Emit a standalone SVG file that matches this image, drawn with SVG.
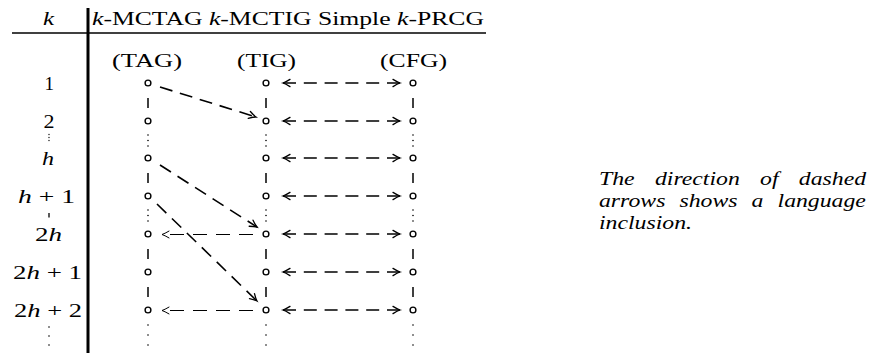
<svg xmlns="http://www.w3.org/2000/svg" width="872" height="353" viewBox="0 0 872 353">
<style>
text{font-family:"Liberation Serif","DejaVu Serif",serif;fill:#000;font-size:19px}
.i{font-style:italic}
.node{fill:#fff;stroke:#000;stroke-width:1.4}
.vd{stroke:#000;stroke-width:1.5}
.dot{fill:#000}
.thick{fill:none;stroke:#000;stroke-width:1.6;stroke-dasharray:13 7.8}
.thin{fill:none;stroke:#000;stroke-width:1;stroke-dasharray:14 9}
.note{font-style:italic;font-size:19px}
</style>
<defs>
<marker id="ah" markerUnits="userSpaceOnUse" markerWidth="12" markerHeight="12" viewBox="-9 -6 12 12" refX="0" refY="0" orient="auto-start-reverse">
<path d="M-7,-3.6 Q-2.5,-0.8 0,0 Q-2.5,0.8 -7,3.6" fill="none" stroke="#000" stroke-width="1.3" stroke-linecap="round"/>
</marker>
<marker id="aht" markerUnits="userSpaceOnUse" markerWidth="12" markerHeight="12" viewBox="-9 -6 12 12" refX="0" refY="0" orient="auto">
<path d="M-7,-3.4 Q-2.5,-0.8 0,0 Q-2.5,0.8 -7,3.4" fill="none" stroke="#000" stroke-width="1" stroke-linecap="round"/>
</marker>
</defs>

<g id="table">
<line x1="12" y1="33" x2="486" y2="33" stroke="#000" stroke-width="1.3"/>
<line x1="88" y1="8" x2="88" y2="353" stroke="#000" stroke-width="3"/>
<text x="43" y="25" class="i" textLength="11" lengthAdjust="spacingAndGlyphs">k</text>
<text x="92" y="25" textLength="392" lengthAdjust="spacingAndGlyphs"><tspan class="i">k</tspan>-MCTAG <tspan class="i">k</tspan>-MCTIG Simple <tspan class="i">k</tspan>-PRCG</text>
<text x="112" y="67" textLength="70" lengthAdjust="spacingAndGlyphs">(TAG)</text>
<text x="237" y="67" textLength="59" lengthAdjust="spacingAndGlyphs">(TIG)</text>
<text x="380" y="67" textLength="67" lengthAdjust="spacingAndGlyphs">(CFG)</text>
</g>

<g id="row-labels">
<text x="44.5" y="90">1</text>
<text x="43.5" y="128" textLength="11" lengthAdjust="spacingAndGlyphs">2</text>
<circle class="dot" cx="49" cy="134.5" r="0.65"/>
<circle class="dot" cx="49" cy="137.5" r="0.65"/>
<circle class="dot" cx="49" cy="140.5" r="0.65"/>
<text x="42" y="165" class="i" textLength="12" lengthAdjust="spacingAndGlyphs">h</text>
<text x="18" y="203" textLength="57" lengthAdjust="spacingAndGlyphs"><tspan class="i">h</tspan> + 1</text>
<line x1="49" y1="213" x2="49" y2="217.5" stroke="#000" stroke-width="1.3"/>
<text x="35" y="241" textLength="27" lengthAdjust="spacingAndGlyphs">2<tspan class="i">h</tspan></text>
<text x="13" y="279" textLength="69" lengthAdjust="spacingAndGlyphs">2<tspan class="i">h</tspan> + 1</text>
<text x="14" y="317" textLength="68" lengthAdjust="spacingAndGlyphs">2<tspan class="i">h</tspan> + 2</text>
<circle class="dot" cx="49" cy="327" r="0.8"/>
<circle class="dot" cx="49" cy="336" r="0.8"/>
<circle class="dot" cx="49" cy="345" r="0.8"/>
</g>

<g id="connectors">
<line class="vd" x1="148" y1="98" x2="148" y2="108"/>
<line class="vd" x1="148" y1="173" x2="148" y2="183"/>
<line class="vd" x1="148" y1="249" x2="148" y2="259"/>
<line class="vd" x1="148" y1="287" x2="148" y2="297"/>
<line class="vd" x1="266" y1="98" x2="266" y2="108"/>
<line class="vd" x1="266" y1="173" x2="266" y2="183"/>
<line class="vd" x1="266" y1="249" x2="266" y2="259"/>
<line class="vd" x1="266" y1="287" x2="266" y2="297"/>
<line class="vd" x1="413" y1="98" x2="413" y2="108"/>
<line class="vd" x1="413" y1="173" x2="413" y2="183"/>
<line class="vd" x1="413" y1="249" x2="413" y2="259"/>
<line class="vd" x1="413" y1="287" x2="413" y2="297"/>
<g class="dot">
<circle cx="148" cy="135" r="0.8"/><circle cx="148" cy="140.5" r="0.8"/><circle cx="148" cy="146" r="0.8"/>
<circle cx="266" cy="135" r="0.8"/><circle cx="266" cy="140.5" r="0.8"/><circle cx="266" cy="146" r="0.8"/>
<circle cx="413" cy="135" r="0.8"/><circle cx="413" cy="140.5" r="0.8"/><circle cx="413" cy="146" r="0.8"/>
<circle cx="148" cy="210" r="0.8"/><circle cx="148" cy="215.5" r="0.8"/><circle cx="148" cy="221" r="0.8"/>
<circle cx="266" cy="210" r="0.8"/><circle cx="266" cy="215.5" r="0.8"/><circle cx="266" cy="221" r="0.8"/>
<circle cx="413" cy="210" r="0.8"/><circle cx="413" cy="215.5" r="0.8"/><circle cx="413" cy="221" r="0.8"/>
<circle cx="148" cy="325" r="0.8"/><circle cx="148" cy="335" r="0.8"/><circle cx="148" cy="345" r="0.8"/>
<circle cx="266" cy="325" r="0.8"/><circle cx="266" cy="335" r="0.8"/><circle cx="266" cy="345" r="0.8"/>
<circle cx="413" cy="325" r="0.8"/><circle cx="413" cy="335" r="0.8"/><circle cx="413" cy="345" r="0.8"/>
</g>
<line class="thick" x1="283" y1="83" x2="400" y2="83" marker-start="url(#ah)" marker-end="url(#ah)"/>
<line class="thick" x1="283" y1="121" x2="400" y2="121" marker-start="url(#ah)" marker-end="url(#ah)"/>
<line class="thick" x1="283" y1="158" x2="400" y2="158" marker-start="url(#ah)" marker-end="url(#ah)"/>
<line class="thick" x1="283" y1="196" x2="400" y2="196" marker-start="url(#ah)" marker-end="url(#ah)"/>
<line class="thick" x1="283" y1="234" x2="400" y2="234" marker-start="url(#ah)" marker-end="url(#ah)"/>
<line class="thick" x1="283" y1="272" x2="400" y2="272" marker-start="url(#ah)" marker-end="url(#ah)"/>
<line class="thick" x1="283" y1="310" x2="400" y2="310" marker-start="url(#ah)" marker-end="url(#ah)"/>
<line class="thick" x1="160" y1="87" x2="256" y2="117" marker-end="url(#ah)"/>
<line class="thick" x1="160" y1="165" x2="257" y2="227" marker-end="url(#ah)"/>
<line class="thick" x1="157" y1="204" x2="257" y2="301" marker-end="url(#ah)"/>
<line class="thin" x1="253" y1="234.5" x2="162" y2="234.5" marker-end="url(#aht)"/>
<line class="thin" x1="253" y1="310.5" x2="162" y2="310.5" marker-end="url(#aht)"/>
</g>

<g id="nodes">
<g id="tag"><circle class="node" cx="148" cy="83" r="2.9"/><circle class="node" cx="148" cy="121" r="2.9"/><circle class="node" cx="148" cy="158" r="2.9"/><circle class="node" cx="148" cy="196" r="2.9"/><circle class="node" cx="148" cy="234" r="2.9"/><circle class="node" cx="148" cy="272" r="2.9"/><circle class="node" cx="148" cy="310" r="2.9"/></g>
<g id="tig"><circle class="node" cx="266" cy="83" r="2.9"/><circle class="node" cx="266" cy="121" r="2.9"/><circle class="node" cx="266" cy="158" r="2.9"/><circle class="node" cx="266" cy="196" r="2.9"/><circle class="node" cx="266" cy="234" r="2.9"/><circle class="node" cx="266" cy="272" r="2.9"/><circle class="node" cx="266" cy="310" r="2.9"/></g>
<g id="cfg"><circle class="node" cx="413" cy="83" r="2.9"/><circle class="node" cx="413" cy="121" r="2.9"/><circle class="node" cx="413" cy="158" r="2.9"/><circle class="node" cx="413" cy="196" r="2.9"/><circle class="node" cx="413" cy="234" r="2.9"/><circle class="node" cx="413" cy="272" r="2.9"/><circle class="node" cx="413" cy="310" r="2.9"/></g>
</g>

<g id="caption">
<text class="note" transform="translate(599 185) scale(1.25 1)" word-spacing="11.5">The direction of dashed</text>
<text class="note" transform="translate(599 207) scale(1.25 1)" word-spacing="6.5">arrows shows a language</text>
<text class="note" transform="translate(599 229) scale(1.25 1)">inclusion.</text>
</g>
</svg>
